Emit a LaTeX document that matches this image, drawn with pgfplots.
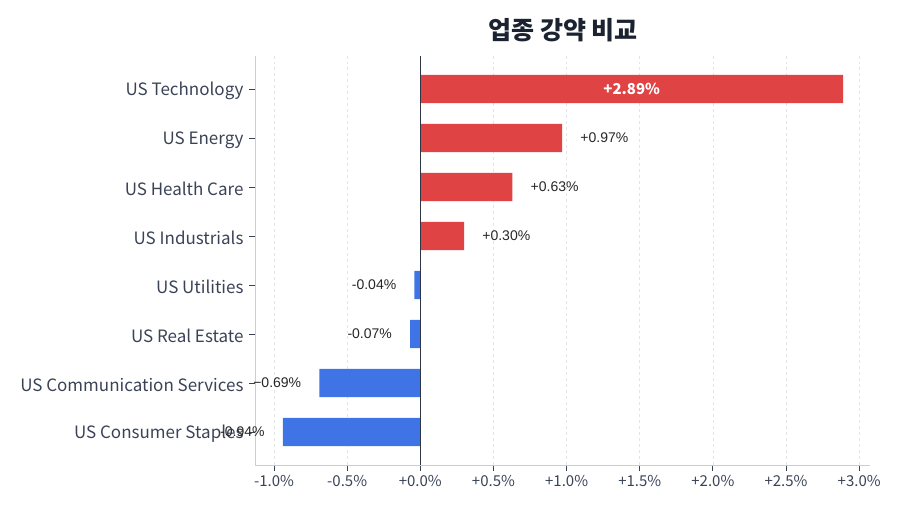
\documentclass[border=0pt]{standalone}
\usepackage{pgfplots}
\pgfplotsset{compat=1.18}
\usepackage{fontspec}
\setmainfont{Noto Sans CJK KR}
\newfontfamily\lblfont{Liberation Sans}
\definecolor{barred}{HTML}{E04343}
\definecolor{barblue}{HTML}{3F74E6}
\definecolor{spine}{HTML}{C9CDD8}
\definecolor{gridc}{HTML}{E3E5EA}
\definecolor{tickc}{HTML}{3A4356}
\definecolor{zeroc}{HTML}{2E3646}
\definecolor{titlec}{HTML}{1B2230}
\pgfplotstableread{
y x lbl
7 2.89 {}
6 0.97 {+0.97\%}
5 0.63 {+0.63\%}
4 0.30 {+0.30\%}
}\pos
\pgfplotstableread{
y x lbl
3 -0.04 {-0.04\%}
2 -0.07 {-0.07\%}
1 -0.69 {−0.69\%}
0 -0.94 {-0.94\%}
}\neg
\begin{document}
\begin{tikzpicture}
\useasboundingbox (0,0) rectangle (900bp,514bp);
\node[font=\fontsize{25bp}{30bp}\selectfont\bfseries, text=titlec] at (563bp,484bp) {업종 강약 비교};
\begin{axis}[
  at={(255bp,49bp)}, anchor=south west,
  scale only axis, width=615bp, height=409bp,
  xbar, bar width=0.58, bar shift=0pt,
  xmin=-1.13, xmax=3.074, ymin=-0.673, ymax=7.673,
  axis x line*=bottom, axis y line*=left,
  axis line style={spine, line width=0.8bp},
  xtick={-1,-0.5,0,0.5,1,1.5,2,2.5,3},
  xticklabels={-1.0\%,-0.5\%,+0.0\%,+0.5\%,+1.0\%,+1.5\%,+2.0\%,+2.5\%,+3.0\%},
  ytick={0,1,2,3,4,5,6,7},
  yticklabels={US Consumer Staples,US Communication Services,US Real Estate,US Utilities,US Industrials,US Health Care,US Energy,US Technology},
  tick align=outside, tick pos=left,
  major tick length=6bp,
  tick style={tickc, line width=0.8bp},
  ticklabel style={text=tickc},
  x tick label style={font=\fontsize{15bp}{18bp}\selectfont, yshift=-1bp},
  y tick label style={font=\fontsize{17bp}{20bp}\selectfont, xshift=-2bp, yshift=-2bp},
  xmajorgrids, major x grid style={gridc, dashed, line width=0.6bp},
  ymajorgrids=false,
  point meta=explicit symbolic,
  clip=false,
]
\addplot[fill=barred, draw=none, nodes near coords,
  every node near coord/.style={anchor=west, font=\lblfont\fontsize{14bp}{16bp}\selectfont, text=black!85, inner xsep=0pt, inner ysep=0pt, xshift=18bp}]
  table[x=x, y=y, meta=lbl] {\pos};
\addplot[fill=barblue, draw=none, nodes near coords,
  every node near coord/.style={anchor=east, font=\lblfont\fontsize{14bp}{16bp}\selectfont, text=black!85, inner xsep=0pt, inner ysep=0pt, xshift=-18bp}]
  table[x=x, y=y, meta=lbl] {\neg};
\draw[zeroc, line width=1.3bp] (axis cs:0,-0.673) -- (axis cs:0,7.673);
\node[font=\fontsize{15bp}{18bp}\selectfont\bfseries, text=white] at (axis cs:1.445,7) {+2.89\%};
\end{axis}
\end{tikzpicture}
\end{document}
